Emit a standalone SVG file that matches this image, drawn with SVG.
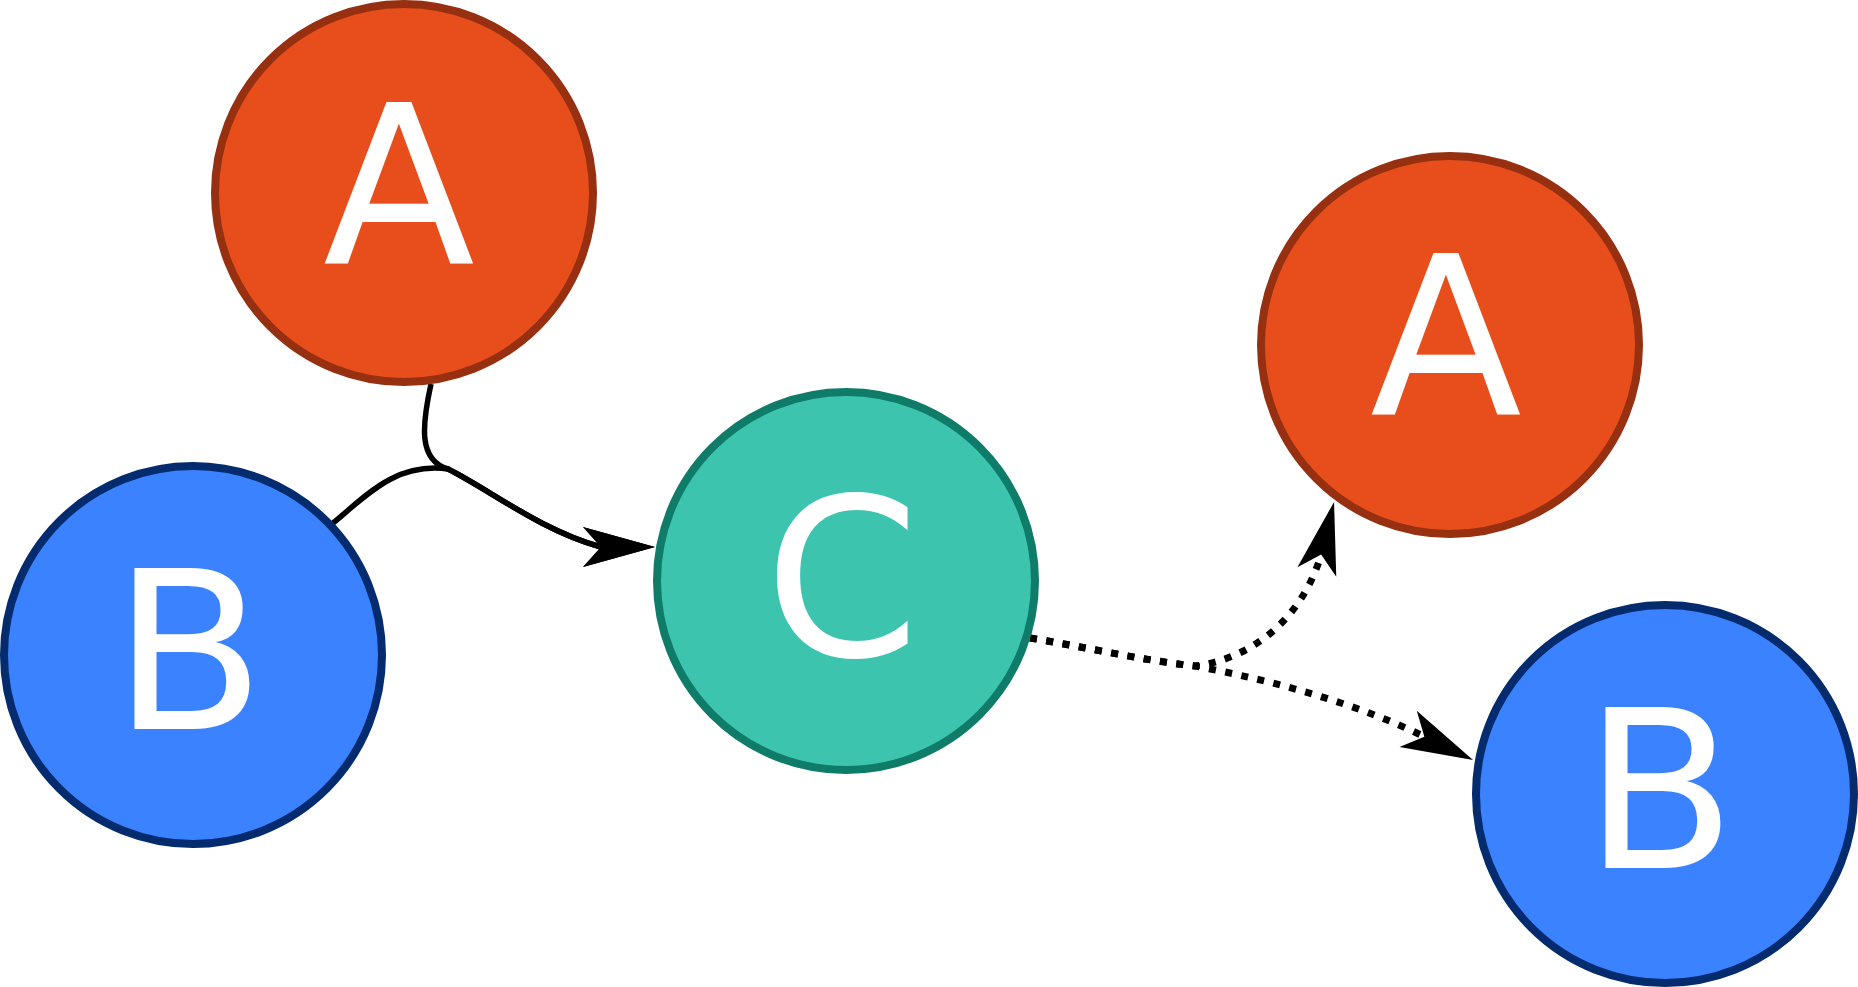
<svg xmlns="http://www.w3.org/2000/svg" width="1858" height="987" viewBox="0 0 1858 987">
<style>
.nodeA circle{fill:#e84e1b;stroke:#963010;stroke-width:8}
.nodeB circle{fill:#3a82ff;stroke:#032b6e;stroke-width:8}
.nodeC circle{fill:#3cc4af;stroke:#0f7b69;stroke-width:8}
.node text{fill:#ffffff;font-family:"DejaVu Sans",sans-serif;font-size:222px;text-anchor:middle}
.solid{fill:none;stroke:#000;stroke-width:5.5}
.dotted{fill:none;stroke:#000;stroke-width:7;stroke-dasharray:7 9.5}
</style>
<defs>
<marker id="arrow" markerUnits="userSpaceOnUse" viewBox="-60 -21 76 42" refX="0" refY="0" markerWidth="76" markerHeight="42" orient="auto" overflow="visible">
<path d="M14,0 L-58,-20 L-40,0 L-58,20 Z" fill="#000"/>
</marker>
</defs>
<rect width="1858" height="987" fill="#ffffff"/>
<g id="connectors">
<path class="solid" d="M431,384 C422,425 418,460 448,469 C490,490 540,530 601,547 L641,547" marker-end="url(#arrow)"/>
<path class="solid" d="M333,523 C365,497 395,462 448,469 C490,490 540,530 601,547 L641,547" marker-end="url(#arrow)"/>
<path class="dotted" d="M1030,638 C1085,647 1140,660 1195,666 C1245,660 1300,625 1321,555 L1330.7,515.6" marker-end="url(#arrow)"/>
<path class="dotted" d="M1030,638 C1085,647 1140,660 1195,666 C1280,682 1360,705 1425,737 L1460.4,754" marker-end="url(#arrow)"/>
</g>
<g id="node-A1" class="node nodeA">
<circle cx="404" cy="193" r="189"/>
<text x="399" y="263">A</text>
</g>
<g id="node-B1" class="node nodeB">
<circle cx="193" cy="655" r="189"/>
<text x="189" y="729">B</text>
</g>
<g id="node-C" class="node nodeC">
<circle cx="846" cy="581" r="189"/>
<text x="842" y="656">C</text>
</g>
<g id="node-A2" class="node nodeA">
<circle cx="1450" cy="345" r="189"/>
<text x="1446" y="414">A</text>
</g>
<g id="node-B2" class="node nodeB">
<circle cx="1665" cy="794" r="189"/>
<text x="1660" y="868">B</text>
</g>
</svg>
